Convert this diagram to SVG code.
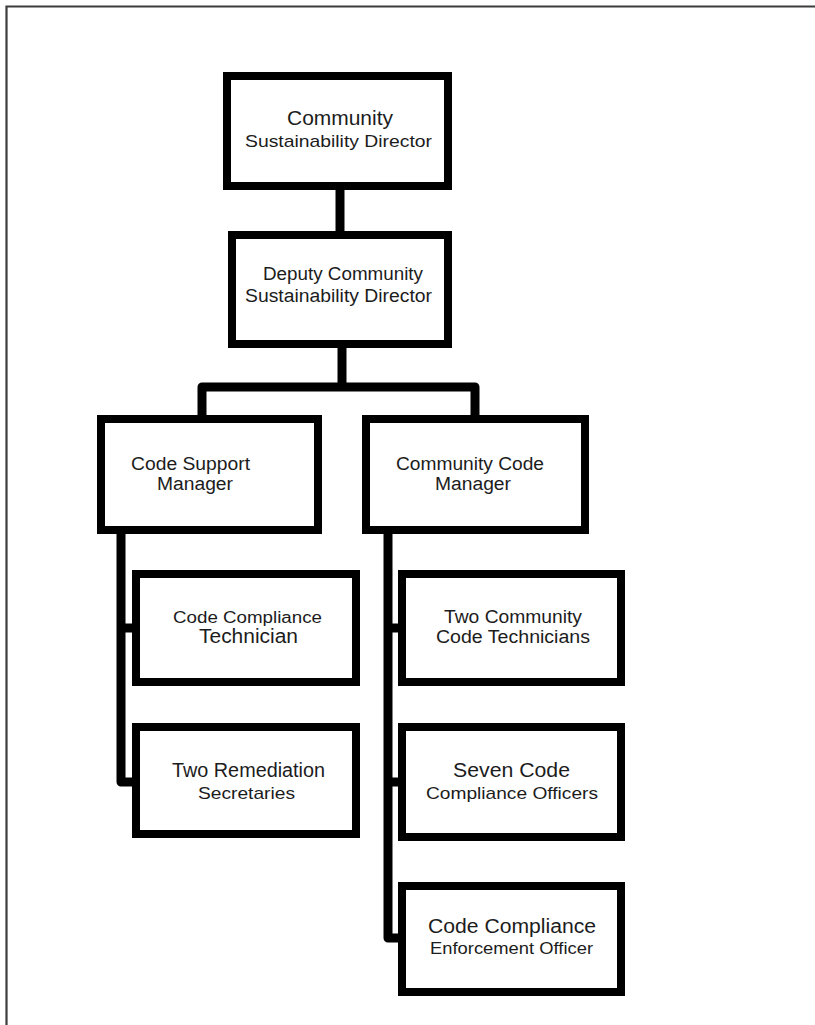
<svg xmlns="http://www.w3.org/2000/svg" width="815" height="1025" viewBox="0 0 815 1025">
  <style>
    .box { fill: #ffffff; stroke: #000000; stroke-width: 8; }
    .wire { fill: none; stroke: #000000; stroke-width: 9; stroke-linejoin: round; }
    .frame { fill: none; stroke: #3c3c3c; stroke-width: 2.2; }
    text { font-family: "Liberation Sans", Arial, sans-serif; fill: #1c1c1c; text-anchor: middle; }
  </style>
  <rect width="815" height="1025" fill="#ffffff"/>
  <!-- page frame -->
  <path class="frame" d="M6.5,1025 V6.5 H815"/>

  <!-- connectors -->
  <g id="connectors">
    <path class="wire" d="M340,188 V233"/>
    <path class="wire" d="M342,346 V387"/>
    <path class="wire" d="M202,417 V387 H475 V417"/>
    <path class="wire" d="M121,532 V782 H134"/>
    <path class="wire" d="M121,628 H134"/>
    <path class="wire" d="M388,532 V938 H400"/>
    <path class="wire" d="M388,628 H400"/>
    <path class="wire" d="M388,782 H400"/>
  </g>

  <!-- director -->
  <g id="director">
    <rect class="box" x="227" y="76" width="221" height="110"/>
    <text x="340" y="125" font-size="20" textLength="106" lengthAdjust="spacingAndGlyphs">Community</text>
    <text x="338.5" y="147" font-size="17" textLength="187" lengthAdjust="spacingAndGlyphs">Sustainability Director</text>
  </g>

  <!-- deputy director -->
  <g id="deputy-director">
    <rect class="box" x="232" y="235" width="216" height="109"/>
    <text x="343" y="280" font-size="18" textLength="160" lengthAdjust="spacingAndGlyphs">Deputy Community</text>
    <text x="338.5" y="302" font-size="18" textLength="187" lengthAdjust="spacingAndGlyphs">Sustainability Director</text>
  </g>

  <!-- code support manager -->
  <g id="code-support-manager">
    <rect class="box" x="101" y="419" width="217" height="111"/>
    <text x="190.5" y="470" font-size="18" textLength="119" lengthAdjust="spacingAndGlyphs">Code Support</text>
    <text x="195" y="490" font-size="18" textLength="76" lengthAdjust="spacingAndGlyphs">Manager</text>
  </g>

  <!-- community code manager -->
  <g id="community-code-manager">
    <rect class="box" x="366" y="419" width="219" height="111"/>
    <text x="470" y="470" font-size="18" textLength="148" lengthAdjust="spacingAndGlyphs">Community Code</text>
    <text x="473" y="490" font-size="18" textLength="76" lengthAdjust="spacingAndGlyphs">Manager</text>
  </g>

  <!-- code compliance technician -->
  <g id="code-compliance-technician">
    <rect class="box" x="136" y="574" width="220" height="108"/>
    <text x="247.5" y="623" font-size="16" textLength="149" lengthAdjust="spacingAndGlyphs">Code Compliance</text>
    <text x="248.5" y="643" font-size="20" textLength="99" lengthAdjust="spacingAndGlyphs">Technician</text>
  </g>

  <!-- remediation secretaries -->
  <g id="remediation-secretaries">
    <rect class="box" x="136" y="727" width="220" height="107"/>
    <text x="248.5" y="777" font-size="20" textLength="153" lengthAdjust="spacingAndGlyphs">Two Remediation</text>
    <text x="246.5" y="799" font-size="17" textLength="97" lengthAdjust="spacingAndGlyphs">Secretaries</text>
  </g>

  <!-- community code technicians -->
  <g id="community-code-technicians">
    <rect class="box" x="402" y="574" width="219" height="108"/>
    <text x="513" y="623" font-size="18" textLength="138" lengthAdjust="spacingAndGlyphs">Two Community</text>
    <text x="513" y="643" font-size="18" textLength="154" lengthAdjust="spacingAndGlyphs">Code Technicians</text>
  </g>

  <!-- code compliance officers -->
  <g id="code-compliance-officers">
    <rect class="box" x="402" y="727" width="219" height="110"/>
    <text x="511.5" y="777" font-size="20" textLength="117" lengthAdjust="spacingAndGlyphs">Seven Code</text>
    <text x="512" y="799" font-size="17" textLength="172" lengthAdjust="spacingAndGlyphs">Compliance Officers</text>
  </g>

  <!-- enforcement officer -->
  <g id="enforcement-officer">
    <rect class="box" x="402" y="886" width="219" height="106"/>
    <text x="512" y="933" font-size="20" textLength="168" lengthAdjust="spacingAndGlyphs">Code Compliance</text>
    <text x="511.5" y="954" font-size="17" textLength="163" lengthAdjust="spacingAndGlyphs">Enforcement Officer</text>
  </g>
</svg>
